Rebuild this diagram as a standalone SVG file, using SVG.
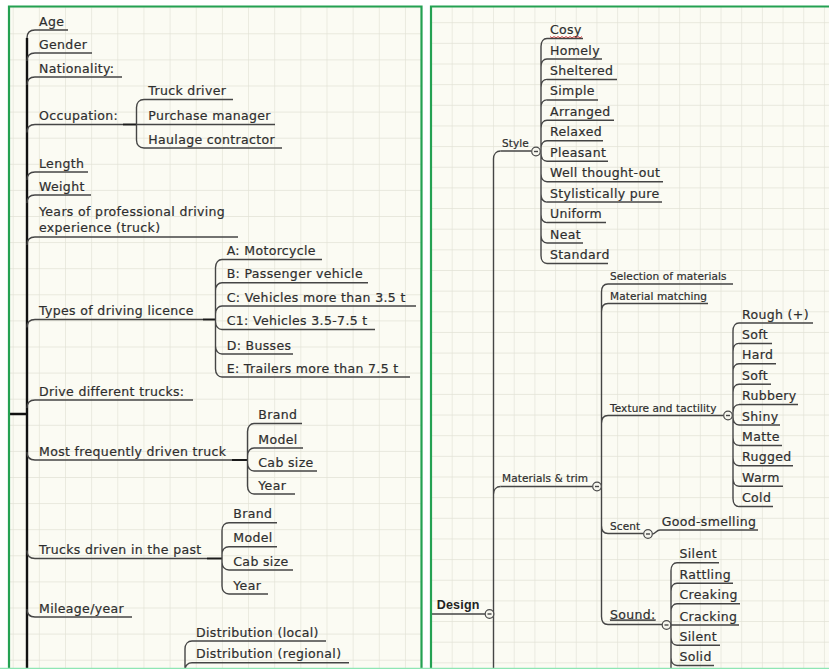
<svg xmlns="http://www.w3.org/2000/svg" width="829" height="669" viewBox="0 0 829 669">
<defs>
<style>
.t{font-family:"DejaVu Sans",Verdana,sans-serif;font-size:12.5px;letter-spacing:.35px;fill:#2e2e2e;stroke:#2e2e2e;stroke-width:.2px}
.s{font-size:10.5px;letter-spacing:.1px}
.b{font-family:"Liberation Sans",Arial,sans-serif;font-weight:bold;font-size:12.5px;letter-spacing:.2px;fill:#222}
.u{fill:none;stroke:#454545;stroke-width:1.5}
.c{fill:none;stroke:#454545;stroke-width:1.4}
.m{fill:none;stroke:#111;stroke-width:2.4}
.k{fill:none;stroke:#1a1a1a;stroke-width:2}
.o{fill:#f6f6ee;stroke:#4a4a4a;stroke-width:1.2}
.g{fill:none;stroke:#e2e2d6;stroke-width:1.3}
.bd{fill:none;stroke:#24a152;stroke-width:2.2}
</style>
<pattern id="gl" patternUnits="userSpaceOnUse" x="12.7" y="7.2" width="26.15" height="26.1"><rect width="26.15" height="26.1" fill="#fbfbf3"/><path class="g" d="M0 0H26.15M0 0V26.1"/></pattern>
<pattern id="gr" patternUnits="userSpaceOnUse" x="431" y="1.55" width="20.68" height="20.65"><rect width="20.68" height="20.65" fill="#fbfbf3"/><path class="g" d="M0 0H20.68M0 0V20.65"/></pattern>
</defs>
<rect width="829" height="669" fill="#fff"/>
<rect x="9" y="6.5" width="412.5" height="663" fill="url(#gl)"/>
<rect x="431" y="6.5" width="398" height="663" fill="url(#gr)"/>

<g id="connectors">
<path class="m" d="M27 38V669M9 414H27"/>
<path class="c" d="M27 38C27 33 30 30 35 30M27 61C27 56 30 53 35 53M27 85C27 80 30 77 35 77M27 132.5C27 127.5 30 124.5 35 124.5M27 180C27 175 30 172 35 172M27 203C27 198 30 195 35 195M27 245C27 240 30 237 35 237M27 327.5C27 322.5 30 319.5 35 319.5M27 408C27 403 30 400 35 400M27 452C27 457 30 460 35 460M27 550.5C27 555.5 30 558.5 35 558.5M27 609C27 614 30 617 35 617"/>
<path class="k" d="M123 124.5H136.5"/>
<path class="c" d="M136.5 107.5V140M136.5 107.5C136.5 102.5 139.5 99.5 144 99.5M136.5 140C136.5 145 139.5 148 144 148"/>
<path class="k" d="M203 319.5H215.5"/>
<path class="c" d="M215.5 267.5V369M215.5 267.5C215.5 262.5 218.5 259.5 222 259.5M215.5 290.7C215.5 285.7 218.5 282.7 222 282.7M215.5 314C215.5 309 218.5 306 222 306M215.5 321.5C215.5 326.5 218.5 329.5 222 329.5M215.5 346C215.5 351 218.5 354 222 354M215.5 369C215.5 374 218.5 377 222 377"/>
<path class="k" d="M232 460H247.5"/>
<path class="c" d="M247.5 431.5V486M247.5 431.5C247.5 426.5 250.5 423.5 254 423.5M247.5 456C247.5 451 250.5 448 254 448M247.5 463C247.5 468 250.5 471 254 471M247.5 486C247.5 491 250.5 494 254 494"/>
<path class="k" d="M207 558.5H222"/>
<path class="c" d="M222 530.7V586M222 530.7C222 525.7 225 522.7 229 522.7M222 554.7C222 549.7 225 546.7 229 546.7M222 562C222 567 225 570 229 570M222 586C222 591 225 594 229 594"/>
<path class="c" d="M185 649V669M185 649C185 644 188 641 192 641M185 670.7C185 665.7 188 662.7 192 662.7"/>
<path class="c" d="M493.5 159V669M493.5 159C493.5 154 496.5 151 500.5 151M493.5 494.5C493.5 489.5 496.5 486.5 500.5 486.5"/>
<path class="c" d="M541 46.5V255.5M541 46.5C541 41.5 543.5 38.5 547 38.5M541 67C541 62 543.5 59 547 59M541 87.4C541 82.4 543.5 79.4 547 79.4M541 107.9C541 102.9 543.5 99.9 547 99.9M541 128.3C541 123.3 543.5 120.3 547 120.3M541 148.8C541 143.8 543.5 140.8 547 140.8M541 153.2C541 158.2 543.5 161.2 547 161.2M541 173.7C541 178.7 543.5 181.7 547 181.7M541 194.1C541 199.1 543.5 202.1 547 202.1M541 214.6C541 219.6 543.5 222.6 547 222.6M541 235C541 240 543.5 243 547 243M541 255.5C541 260.5 543.5 263.5 547 263.5"/>
<path class="c" d="M601.5 292V616.5M601.5 292C601.5 287 604 284 608 284M601.5 311.5C601.5 306.5 604 303.5 608 303.5M601.5 423.5C601.5 418.5 604 415.5 608 415.5M601.5 525.5C601.5 530.5 604 533.5 608 533.5M601.5 616.5C601.5 621.5 604 624.5 608 624.5"/>
<path class="c" d="M733 331V498.6M733 331C733 326 735.5 323 739 323M733 351.4C733 346.4 735.5 343.4 739 343.4M733 371.8C733 366.8 735.5 363.8 739 363.8M733 392.2C733 387.2 735.5 384.2 739 384.2M733 412.6C733 407.6 735.5 404.6 739 404.6M733 417C733 422 735.5 425 739 425M733 437.4C733 442.4 735.5 445.4 739 445.4M733 457.8C733 462.8 735.5 465.8 739 465.8M733 478.2C733 483.2 735.5 486.2 739 486.2M733 498.6C733 503.6 735.5 506.6 739 506.6"/>
<path class="c" d="M652.3 534C655 534 656.5 530 660 530"/>
<path class="c" d="M671 570.7V669M671 570.7C671 565.7 673.5 562.7 677 562.7M671 591.2C671 586.2 673.5 583.2 677 583.2M671 611.7C671 606.7 673.5 603.7 677 603.7M671 637.2C671 642.2 673.5 645.2 677 645.2M671 657.5C671 662.5 673.5 665.5 677 665.5"/>
</g>

<g id="n-age"><text class="t" x="39" y="25.5">Age</text><path class="u" d="M35 30H68"/></g>
<g id="n-gender"><text class="t" x="39" y="48.5">Gender</text><path class="u" d="M35 53H92"/></g>
<g id="n-nationality"><text class="t" x="39" y="72.5">Nationality:</text><path class="u" d="M35 77H122"/></g>
<g id="n-occupation"><text class="t" x="39" y="120">Occupation:</text><path class="u" d="M35 124.5H123"/></g>
<g id="n-truck-driver"><text class="t" x="148.3" y="95">Truck driver</text><path class="u" d="M144 99.5H233"/></g>
<g id="n-purchase-manager"><text class="t" x="148.3" y="120">Purchase manager</text><path class="u" d="M136.5 124.5H275"/></g>
<g id="n-haulage-contractor"><text class="t" x="148.3" y="143.5">Haulage contractor</text><path class="u" d="M144 148H282"/></g>
<g id="n-length"><text class="t" x="39" y="167.5">Length</text><path class="u" d="M35 172H88"/></g>
<g id="n-weight"><text class="t" x="39" y="190.5">Weight</text><path class="u" d="M35 195H91"/></g>
<g id="n-years"><text class="t" x="39" y="215.5">Years of professional driving</text><text class="t" x="39" y="231.5">experience (truck)</text><path class="u" d="M35 237H238"/></g>
<g id="n-types"><text class="t" x="39" y="315">Types of driving licence</text><path class="u" d="M35 319.5H203"/></g>
<g id="n-lic-a"><text class="t" x="226.7" y="255">A: Motorcycle</text><path class="u" d="M222 259.5H322"/></g>
<g id="n-lic-b"><text class="t" x="226.7" y="278.2">B: Passenger vehicle</text><path class="u" d="M222 282.7H368"/></g>
<g id="n-lic-c"><text class="t" x="226.7" y="301.5">C: Vehicles more than 3.5 t</text><path class="u" d="M222 306H416"/></g>
<g id="n-lic-c1"><text class="t" x="226.7" y="325">C1: Vehicles 3.5-7.5 t</text><path class="u" d="M222 329.5H375"/></g>
<g id="n-lic-d"><text class="t" x="226.7" y="349.5">D: Busses</text><path class="u" d="M222 354H293"/></g>
<g id="n-lic-e"><text class="t" x="226.7" y="372.5">E: Trailers more than 7.5 t</text><path class="u" d="M222 377H410"/></g>
<g id="n-drive"><text class="t" x="39" y="395.5">Drive different trucks:</text><path class="u" d="M35 400H193"/></g>
<g id="n-most"><text class="t" x="39" y="455.5">Most frequently driven truck</text><path class="u" d="M35 460H232"/></g>
<g id="n-most-brand"><text class="t" x="258.3" y="419">Brand</text><path class="u" d="M254 423.5H302"/></g>
<g id="n-most-model"><text class="t" x="258.3" y="443.5">Model</text><path class="u" d="M254 448H303"/></g>
<g id="n-most-cab"><text class="t" x="258.3" y="466.5">Cab size</text><path class="u" d="M254 471H317"/></g>
<g id="n-most-year"><text class="t" x="258.3" y="489.5">Year</text><path class="u" d="M254 494H295"/></g>
<g id="n-past"><text class="t" x="39" y="554">Trucks driven in the past</text><path class="u" d="M35 558.5H207"/></g>
<g id="n-past-brand"><text class="t" x="233.3" y="518.2">Brand</text><path class="u" d="M229 522.7H277"/></g>
<g id="n-past-model"><text class="t" x="233.3" y="542.2">Model</text><path class="u" d="M229 546.7H277"/></g>
<g id="n-past-cab"><text class="t" x="233.3" y="565.5">Cab size</text><path class="u" d="M229 570H293"/></g>
<g id="n-past-year"><text class="t" x="233.3" y="589.5">Year</text><path class="u" d="M229 594H268"/></g>
<g id="n-mileage"><text class="t" x="39" y="612.5">Mileage/year</text><path class="u" d="M35 617H132"/></g>
<g id="n-dist-local"><text class="t" x="196" y="636.5">Distribution (local)</text><path class="u" d="M192 641H326"/></g>
<g id="n-dist-regional"><text class="t" x="196" y="658.2">Distribution (regional)</text><path class="u" d="M192 662.7H349"/></g>

<g id="n-design"><text class="b" x="436.7" y="608.5">Design</text><path class="u" d="M431 614H485"/><circle class="o" cx="489.5" cy="614" r="4.3"/><path class="c" d="M487.5 614H491.5"/></g>
<g id="n-style"><text class="t s" x="502" y="147">Style</text><path class="u" d="M500.5 151H531.5"/><circle class="o" cx="536" cy="151.5" r="4.3"/><path class="c" d="M534 151.5H538"/></g>
<g id="n-cosy"><text class="t" x="550" y="34">Cosy</text><path d="M550 36.5l2 1.4 2-1.4 2 1.4 2-1.4 2 1.4 2-1.4 2 1.4 2-1.4 2 1.4 2-1.4 2 1.4 2-1.4 2 1.4 2-1.4 2 1.4 2-1.4" fill="none" stroke="#e04545" stroke-width="1"/><path class="u" d="M547 38.5H583"/></g>
<g id="n-homely"><text class="t" x="550" y="54.5">Homely</text><path class="u" d="M547 59H602"/></g>
<g id="n-sheltered"><text class="t" x="550" y="74.9">Sheltered</text><path class="u" d="M547 79.4H617"/></g>
<g id="n-simple"><text class="t" x="550" y="95.4">Simple</text><path class="u" d="M547 99.9H598"/></g>
<g id="n-arranged"><text class="t" x="550" y="115.8">Arranged</text><path class="u" d="M547 120.3H614"/></g>
<g id="n-relaxed"><text class="t" x="550" y="136.3">Relaxed</text><path class="u" d="M547 140.8H603"/></g>
<g id="n-pleasant"><text class="t" x="550" y="156.7">Pleasant</text><path class="u" d="M547 161.2H608"/></g>
<g id="n-well"><text class="t" x="550" y="177.2">Well thought-out</text><path class="u" d="M547 181.7H663"/></g>
<g id="n-stylistically"><text class="t" x="550" y="197.6">Stylistically pure</text><path class="u" d="M547 202.1H662"/></g>
<g id="n-uniform"><text class="t" x="550" y="218.1">Uniform</text><path class="u" d="M547 222.6H606"/></g>
<g id="n-neat"><text class="t" x="550" y="238.5">Neat</text><path class="u" d="M547 243H583"/></g>
<g id="n-standard"><text class="t" x="550" y="259">Standard</text><path class="u" d="M547 263.5H608"/></g>
<g id="n-materials"><text class="t s" x="502" y="482">Materials &amp; trim</text><path class="u" d="M500.5 486.5H592.5"/><circle class="o" cx="597" cy="486.5" r="4.3"/><path class="c" d="M595 486.5H599"/></g>
<g id="n-selection"><text class="t s" x="610" y="280">Selection of materials</text><path class="u" d="M608 284H733"/></g>
<g id="n-matching"><text class="t s" x="610" y="299.5">Material matching</text><path class="u" d="M608 303.5H708"/></g>
<g id="n-texture"><text class="t s" x="610" y="411.5">Texture and tactility</text><path class="u" d="M608 415.5H723.5"/><circle class="o" cx="728" cy="415.5" r="4.3"/><path class="c" d="M726 415.5H730"/></g>
<g id="n-rough"><text class="t" x="742" y="318.5">Rough (+)</text><path class="u" d="M739 323H813"/></g>
<g id="n-soft1"><text class="t" x="742" y="338.9">Soft</text><path class="u" d="M739 343.4H772"/></g>
<g id="n-hard"><text class="t" x="742" y="359.3">Hard</text><path class="u" d="M739 363.8H776"/></g>
<g id="n-soft2"><text class="t" x="742" y="379.7">Soft</text><path class="u" d="M739 384.2H771"/></g>
<g id="n-rubbery"><text class="t" x="742" y="400.1">Rubbery</text><path class="u" d="M739 404.6H798"/></g>
<g id="n-shiny"><text class="t" x="742" y="420.5">Shiny</text><path class="u" d="M739 425H780"/></g>
<g id="n-matte"><text class="t" x="742" y="440.9">Matte</text><path class="u" d="M739 445.4H782"/></g>
<g id="n-rugged"><text class="t" x="742" y="461.3">Rugged</text><path class="u" d="M739 465.8H793"/></g>
<g id="n-warm"><text class="t" x="742" y="481.7">Warm</text><path class="u" d="M739 486.2H783"/></g>
<g id="n-cold"><text class="t" x="742" y="502.1">Cold</text><path class="u" d="M739 506.6H773"/></g>
<g id="n-scent"><text class="t s" x="610" y="529.5">Scent</text><path class="u" d="M608 533.5H643.5"/><circle class="o" cx="648" cy="534" r="4.3"/><path class="c" d="M646 534H650"/></g>
<g id="n-good-smelling"><text class="t" x="661.7" y="525.5">Good-smelling</text><path class="u" d="M660 530H758"/></g>
<g id="n-sound"><text class="t" x="610" y="618.5" text-decoration="underline">Sound:</text><path class="u" d="M608 624.5H662"/><circle class="o" cx="666.5" cy="625" r="4.3"/><path class="c" d="M664.5 625H668.5"/></g>
<g id="n-silent1"><text class="t" x="679.5" y="558.2">Silent</text><path class="u" d="M677 562.7H719"/></g>
<g id="n-rattling"><text class="t" x="679.5" y="578.7">Rattling</text><path class="u" d="M677 583.2H733"/></g>
<g id="n-creaking"><text class="t" x="679.5" y="599.2">Creaking</text><path class="u" d="M677 603.7H740"/></g>
<g id="n-cracking"><text class="t" x="679.5" y="620.5">Cracking</text><path class="u" d="M671 625H739"/></g>
<g id="n-silent2"><text class="t" x="679.5" y="640.7">Silent</text><path class="u" d="M677 645.2H720"/></g>
<g id="n-solid"><text class="t" x="679.5" y="661">Solid</text><path class="u" d="M677 665.5H714"/></g>

<path class="bd" d="M9 669V6.5H421.5V669M431 669V6.5H829"/>
<path d="M0 668.4H829" stroke="#8fe6b4" stroke-width="1.4"/>
</svg>
